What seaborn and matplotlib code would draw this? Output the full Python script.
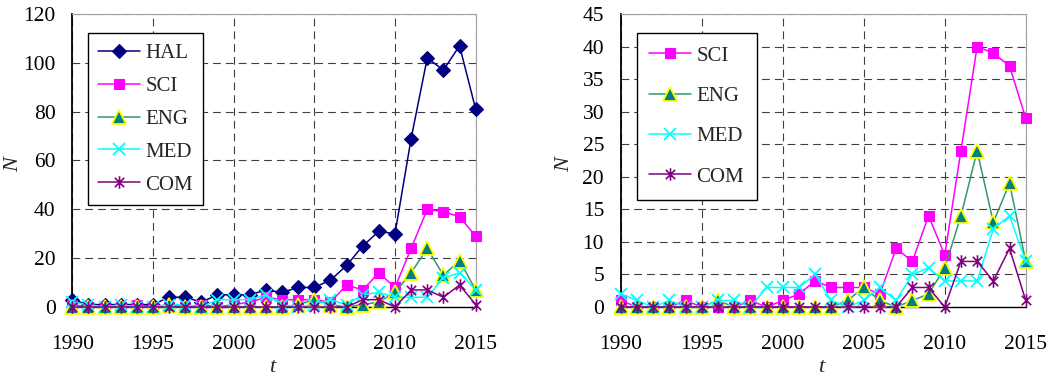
import numpy as np
import matplotlib
matplotlib.use("Agg")
import matplotlib.pyplot as plt
from matplotlib.path import Path
import seaborn as sns

# Yearly counts per collection
years = list(range(1990, 2016))
hal = [3, 1, 1, 1, 1, 1, 4, 4, 2, 5, 5, 5, 7, 6, 8, 8, 11, 17, 25, 31, 30, 69, 102, 97, 107, 81]
sci = [1, 0, 0, 0, 1, 0, 0, 0, 1, 0, 1, 2, 4, 3, 3, 3, 2, 9, 7, 14, 8, 24, 40, 39, 37, 29]
eng = [0, 0, 0, 0, 0, 0, 1, 0, 0, 0, 0, 0, 0, 0, 1, 3, 1, 0, 1, 2, 6, 14, 24, 13, 19, 7]
med = [2, 1, 0, 1, 0, 0, 1, 1, 0, 3, 3, 3, 5, 1, 0, 1, 3, 1, 5, 6, 4, 4, 4, 12, 14, 7]
com = [0, 0, 0, 0, 0, 0, 0, 0, 0, 0, 0, 0, 0, 0, 0, 0, 0, 0, 3, 3, 0, 7, 7, 4, 9, 1]

x_ticks = [1990, 1995, 2000, 2005, 2010, 2015]
left_yticks = [0, 20, 40, 60, 80, 100, 120]
right_yticks = [0, 5, 10, 15, 20, 25, 30, 35, 40, 45]

sns.set_style("white")
plt.rcParams["font.family"] = ["Liberation Serif", "DejaVu Serif"]

# asterisk marker: vertical bar plus a diagonal cross
star_path = Path(
    [(0, -1), (0, 1), (-0.75, -0.75), (0.75, 0.75), (-0.75, 0.75), (0.75, -0.75)],
    [Path.MOVETO, Path.LINETO, Path.MOVETO, Path.LINETO, Path.MOVETO, Path.LINETO],
)

styles = {
    "HAL": dict(color="#000080", marker="D", markersize=7.5, mfc="#000080", mec="#000080", mew=0.8),
    "SCI": dict(color="#FF00FF", marker="s", markersize=6.5, mfc="#FF00FF", mec="#FF00FF", mew=0.8),
    "ENG": dict(color="#339966", marker="^", markersize=9.5, mfc="#008080", mec="#FFFF00", mew=1.3),
    "MED": dict(color="#00FFFF", marker="x", markersize=8, mfc="#00FFFF", mec="#00FFFF", mew=1.3),
    "COM": dict(color="#800080", marker=star_path, markersize=9, mfc="#800080", mec="#800080", mew=1.2),
}
series = {"HAL": hal, "SCI": sci, "ENG": eng, "MED": med, "COM": com}

fig = plt.figure(figsize=(10.58, 3.78), dpi=100)
ax_l = fig.add_axes([0.0683, 0.1878, 0.3813, 0.7752])
ax_r = fig.add_axes([0.5867, 0.1878, 0.3828, 0.7752])

panels = [
    (ax_l, ["HAL", "SCI", "ENG", "MED", "COM"], (0, 120), left_yticks, 0.64, 0.5, -0.145),
    (ax_r, ["SCI", "ENG", "MED", "COM"], (0, 45), right_yticks, 1.0, 0.62, -0.1375),
]

for ax, names, ylim, yticks, lsp, bpad, ylab_x in panels:
    for name in names:
        st = styles[name]
        sns.lineplot(
            x=years, y=series[name], ax=ax, color=st["color"], lw=1.1,
            marker=st["marker"], markersize=st["markersize"],
            markerfacecolor=st["mfc"], markeredgecolor=st["mec"],
            markeredgewidth=st["mew"], clip_on=False, label=name,
            estimator=None, zorder=3,
        )
    ax.set_xlim(1990, 2015)
    ax.set_ylim(*ylim)
    ax.set_xticks(x_ticks)
    ax.set_yticks(yticks)
    ax.tick_params(axis="both", length=0, labelsize=15.5, colors="black")
    ax.tick_params(axis="y", pad=12)
    ax.tick_params(axis="x", pad=20)
    ax.grid(True, color="#404040", lw=0.8, linestyle=(0, (7, 4.5)), zorder=1)
    ax.set_axisbelow(True)
    for side in ("top", "right"):
        ax.spines[side].set_color("#a0a0a0")
        ax.spines[side].set_linewidth(0.8)
    ax.spines["left"].set_color("black")
    ax.spines["left"].set_linewidth(1.3)
    ax.spines["bottom"].set_color("black")
    ax.spines["bottom"].set_linewidth(1.0)
    ax.set_xlabel("t", fontsize=16, style="italic", va="center")
    ax.xaxis.set_label_coords(0.495, -0.205)
    ax.set_ylabel("N", fontsize=16, style="italic", va="center")
    ax.yaxis.set_label_coords(ylab_x, 0.485)
    leg = ax.legend(
        loc="upper left", bbox_to_anchor=(0.039, 0.935), borderaxespad=0,
        fontsize=15, frameon=True, fancybox=False, framealpha=1,
        edgecolor="black", handlelength=2.0, handletextpad=0.25,
        labelspacing=lsp, borderpad=bpad,
    )
    leg.get_frame().set_linewidth(1.0)
    leg.set_zorder(5)

fig.savefig("out.png", dpi=100)
